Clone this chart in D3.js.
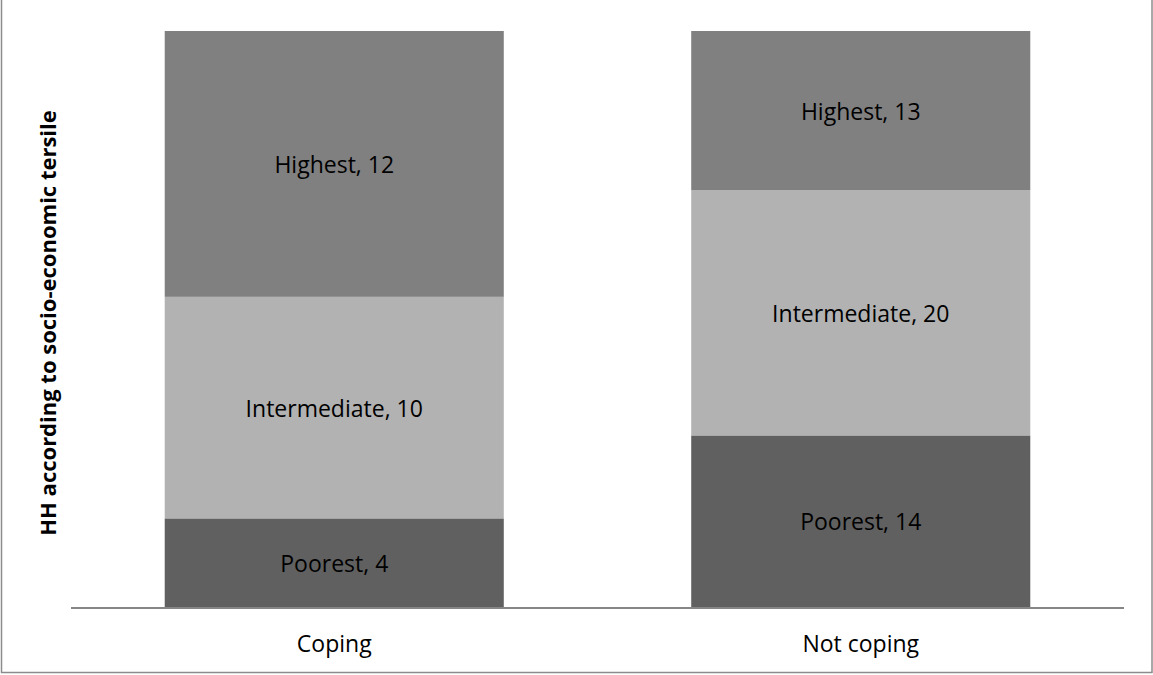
<!DOCTYPE html>
<html>
<head>
<meta charset="utf-8">
<script src="https://cdn.jsdelivr.net/npm/d3@7"></script>
<style>
  html, body { margin: 0; padding: 0; background: #fff; }
  svg { display: block; }
  text { font-family: "Open Sans", "Noto Sans", sans-serif; fill: #000; }
</style>
</head>
<body>
<svg id="chart" width="1153" height="675"></svg>
<script>
// Households by socio-economic tersile, coping vs not coping (100% stacked)
const categories = ["Coping", "Not coping"];
const tersiles = ["Poorest", "Intermediate", "Highest"];
const poorest = [4, 14];
const intermediate = [10, 20];
const highest = [12, 13];
const yTitle = "HH according to socio-economic tersile";

const colors = { Poorest: "#606060", Intermediate: "#b2b2b2", Highest: "#808080" };

const rows = categories.map((c, i) => ({
  category: c,
  Poorest: poorest[i],
  Intermediate: intermediate[i],
  Highest: highest[i]
}));

const svg = d3.select("#chart");
const W = 1153, H = 675;

// outer chart frame
svg.append("rect")
  .attr("x", 1.5).attr("y", -5)
  .attr("width", W - 2.5).attr("height", H - 1.5 + 5 - 1)
  .attr("fill", "none")
  .attr("stroke", "#8c8c8c")
  .attr("stroke-width", 1.5);

const plot = { left: 71, right: 1124, top: 31, bottom: 607 };

const x = d3.scaleBand()
  .domain(categories)
  .range([plot.left, plot.right])
  .paddingInner(0.356)
  .paddingOuter(0.178);

const y = d3.scaleLinear()
  .domain([0, 1])
  .range([plot.bottom, plot.top]);

const stack = d3.stack()
  .keys(tersiles)
  .offset(d3.stackOffsetExpand);
const series = stack(rows);

const groups = svg.append("g").selectAll("g")
  .data(series)
  .join("g")
  .attr("fill", d => colors[d.key]);

groups.selectAll("rect")
  .data(d => d.map(v => ({ key: d.key, v })))
  .join("rect")
  .attr("x", d => x(d.v.data.category))
  .attr("width", x.bandwidth())
  .attr("y", d => y(d.v[1]))
  .attr("height", d => y(d.v[0]) - y(d.v[1]));

// segment labels
groups.selectAll("text")
  .data(d => d.map(v => ({ key: d.key, v })))
  .join("text")
  .attr("x", d => x(d.v.data.category) + x.bandwidth() / 2)
  .attr("y", d => (y(d.v[0]) + y(d.v[1])) / 2)
  .attr("text-anchor", "middle")
  .attr("dominant-baseline", "central")
  .attr("font-size", 23)
  .text(d => `${d.key}, ${d.v.data[d.key]}`);

// category axis
const xAxis = svg.append("g")
  .attr("transform", `translate(0,${plot.bottom + 1})`)
  .call(d3.axisBottom(x).tickSize(0));
xAxis.select(".domain")
  .attr("d", `M${plot.left},0H${plot.right}`)
  .attr("stroke", "#868686")
  .attr("stroke-width", 2);
xAxis.selectAll(".tick text")
  .attr("y", 44)
  .attr("dy", 0)
  .attr("font-size", 23)
  .attr("font-family", "\"Open Sans\", \"Noto Sans\", sans-serif")
  .attr("fill", "#000");

// vertical axis title
svg.append("text")
  .attr("transform", `translate(47,${(plot.top + plot.bottom) / 2 + 4}) rotate(-90)`)
  .attr("text-anchor", "middle")
  .attr("dominant-baseline", "central")
  .attr("font-size", 22)
  .attr("font-weight", "bold")
  .text(yTitle);
</script>
</body>
</html>
